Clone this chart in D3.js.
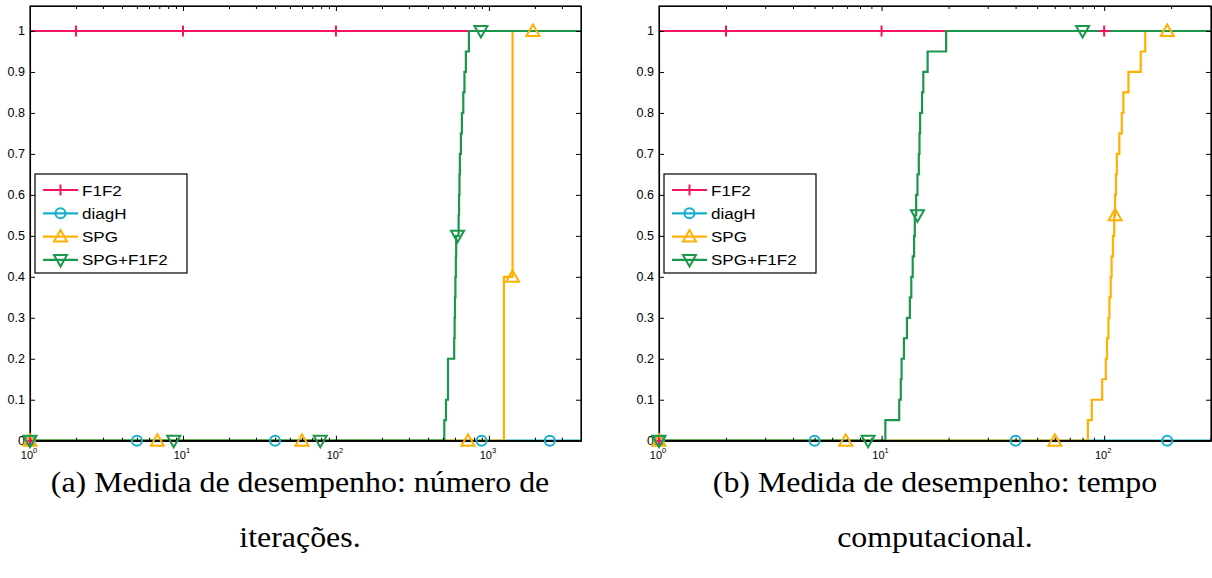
<!DOCTYPE html>
<html>
<head>
<meta charset="utf-8">
<script src="https://cdn.jsdelivr.net/npm/d3@7"></script>
<style>
  body { margin: 0; background: #fff; }
  svg { display: block; }
</style>
</head>
<body>
<div id="chart"></div>
<script>
// performance profiles: iterations (a) and cpu time (b)
var svgWidth = 1212;
var svgHeight = 578;

var seriesNames = ["F1F2", "diagH", "SPG", "SPG+F1F2"];
var seriesColors = ["#f8135f", "#14afcb", "#ffb000", "#1b974c"];
var seriesMarkers = ["plus", "circle", "triUp", "triDown"];

var yTicks = [0, 0.1, 0.2, 0.3, 0.4, 0.5, 0.6, 0.7, 0.8, 0.9, 1];
var xMajor = [1, 10, 100, 1000];
var xExponents = ["0", "1", "2", "3"];

// (a) number of iterations - [tau, rho] stair points
var iterF1F2 = [[1, 0], [1, 1], [4000, 1]];
var iterDiagH = [[1, 0], [4000, 0]];
var iterSPG = [[1, 0], [1253, 0.4], [1428, 1], [4000, 1]];
var iterSPGF1F2 = [[1, 0], [511, 0.05], [524, 0.1], [540, 0.2], [593, 0.25], [597, 0.3],
  [600, 0.35], [604, 0.4], [608, 0.45], [611, 0.5], [634, 0.55], [638, 0.6], [642, 0.65],
  [646, 0.7], [656, 0.75], [666, 0.8], [680, 0.85], [692, 0.9], [707, 0.95], [740, 1], [4000, 1]];

var iterMarkF1F2 = [[1, 0], [2, 1], [10, 1], [100, 1]];
var iterMarkDiagH = [[1, 0], [5, 0], [40, 0], [895, 0], [2500, 0]];
var iterMarkSPG = [[1, 0], [6.8, 0], [60, 0], [730, 0], [1428, 0.4], [1940, 1]];
var iterMarkSPGF1F2 = [[1, 0], [8.7, 0], [79, 0], [624, 0.5], [887, 1]];

// (b) computational time
var timeF1F2 = [[1, 0], [1, 1], [302, 1]];
var timeDiagH = [[1, 0], [302, 0]];
var timeSPG = [[1, 0], [84.5, 0.05], [88, 0.1], [98, 0.15], [101.7, 0.2], [103, 0.25],
  [104.5, 0.3], [105.6, 0.35], [107, 0.4], [108, 0.45], [109.5, 0.5], [111, 0.55], [112, 0.6],
  [113, 0.65], [114, 0.7], [117, 0.75], [120, 0.8], [122, 0.85], [128.6, 0.9], [146, 0.95],
  [153, 1], [302, 1]];
var timeSPGF1F2 = [[1, 0], [10.4, 0.05], [12.0, 0.1], [12.2, 0.15], [12.3, 0.2], [12.6, 0.25],
  [13.0, 0.3], [13.4, 0.35], [13.6, 0.4], [13.8, 0.45], [14.0, 0.5], [14.1, 0.55], [14.3, 0.6],
  [14.5, 0.65], [14.7, 0.7], [14.8, 0.75], [14.9, 0.8], [15.2, 0.85], [15.4, 0.9], [16.1, 0.95],
  [19.5, 1], [302, 1]];

var timeMarkF1F2 = [[1, 0], [2, 1], [10, 1], [100, 1]];
var timeMarkDiagH = [[1, 0], [5, 0], [40, 0], [192, 0]];
var timeMarkSPG = [[1, 0], [6.9, 0], [60, 0], [112, 0.55], [192, 1]];
var timeMarkSPGF1F2 = [[1, 0], [8.7, 0], [14.5, 0.55], [80, 1]];

var captionA = ["(a) Medida de desempenho: número de", "iterações."];
var captionB = ["(b) Medida de desempenho: tempo", "computacional."];

var svg = d3.select("#chart")
  .append("svg")
  .attr("width", svgWidth)
  .attr("height", svgHeight);

function markerPath(type) {
  if (type === "plus") return "M-5.5,0H5.5M0,-5.5V5.5";
  if (type === "triUp") return "M0,-6.5L6.5,5L-6.5,5Z";
  if (type === "triDown") return "M0,6.5L6.5,-5L-6.5,-5Z";
  return null;
}

function drawMarker(g, type, color, x, y) {
  if (type === "circle") {
    g.append("circle")
      .attr("cx", x).attr("cy", y).attr("r", 5)
      .attr("fill", "none").attr("stroke", color).attr("stroke-width", 2);
  } else {
    g.append("path")
      .attr("d", markerPath(type))
      .attr("transform", `translate(${x},${y})`)
      .attr("fill", "none").attr("stroke", color).attr("stroke-width", 2);
  }
}

function drawPanel(opts) {
  var left = opts.left, right = opts.right, top = 6, bottom = 440.7;

  var x = d3.scaleLog().domain([1, opts.xMax]).range([left, right]);
  var y = d3.scaleLinear().domain([0, 1.061]).range([bottom, top]);

  var g = svg.append("g");

  // keep the tau=1 vertical from painting over the left axis
  g.append("clipPath").attr("id", opts.id)
    .append("rect")
    .attr("x", left).attr("y", top - 10)
    .attr("width", right - left).attr("height", bottom - top + 20);

  var plot = g.append("g").attr("clip-path", `url(#${opts.id})`);

  // stair lines
  var line = d3.line()
    .x(d => x(d[0]))
    .y(d => y(d[1]))
    .curve(d3.curveStepAfter);

  opts.lines.forEach(function(data, i) {
    plot.append("path")
      .datum(data)
      .attr("d", line)
      .attr("fill", "none")
      .attr("stroke", seriesColors[i])
      .attr("stroke-width", 2.2);
  });

  // axes
  var minor = x.ticks().filter(v => xMajor.indexOf(v) < 0);
  var majors = xMajor.filter(v => v <= opts.xMax);

  g.append("g")
    .attr("transform", `translate(0,${bottom})`)
    .call(d3.axisBottom(x).tickValues(majors).tickSize(-5).tickSizeOuter(0).tickFormat(""));
  g.append("g")
    .attr("transform", `translate(0,${bottom})`)
    .call(d3.axisBottom(x).tickValues(minor).tickSize(-3).tickSizeOuter(0).tickFormat(""));
  g.append("g")
    .attr("transform", `translate(0,${top})`)
    .call(d3.axisTop(x).tickValues(majors).tickSize(-5).tickSizeOuter(0).tickFormat(""));
  g.append("g")
    .attr("transform", `translate(0,${top})`)
    .call(d3.axisTop(x).tickValues(minor).tickSize(-3).tickSizeOuter(0).tickFormat(""));

  var axLeft = g.append("g")
    .attr("transform", `translate(${left},0)`)
    .call(d3.axisLeft(y).tickValues(yTicks).tickSize(-5).tickSizeOuter(0).tickPadding(5)
      .tickFormat(d3.format("")));
  g.append("g")
    .attr("transform", `translate(${right},0)`)
    .call(d3.axisRight(y).tickValues(yTicks).tickSize(-5).tickSizeOuter(0).tickFormat(""));

  g.selectAll(".domain").attr("stroke", "#000");
  g.selectAll(".tick line").attr("stroke", "#000");
  axLeft.selectAll("text")
    .attr("font-family", "Liberation Sans, Arial, sans-serif")
    .attr("font-size", 12.5)
    .attr("fill", "#000");

  g.append("rect")
    .attr("x", left).attr("y", top)
    .attr("width", right - left).attr("height", bottom - top)
    .attr("fill", "none").attr("stroke", "#000").attr("stroke-width", 1.2);

  // markers on top of the lines
  opts.marks.forEach(function(pts, i) {
    pts.forEach(function(p) {
      drawMarker(g, seriesMarkers[i], seriesColors[i], x(p[0]), y(p[1]));
    });
  });

  // x tick labels 10^k
  majors.forEach(function(v, i) {
    var t = g.append("text")
      .attr("x", x(v) - 1)
      .attr("y", bottom + 18)
      .attr("text-anchor", "middle")
      .attr("font-family", "Liberation Sans, Arial, sans-serif")
      .attr("font-size", 11)
      .attr("fill", "#000");
    t.append("tspan").text("10");
    t.append("tspan").attr("dy", -6).attr("font-size", 7.5).text(xExponents[i]);
  });

  // legend
  var lg = g.append("g").attr("transform", `translate(${left + 5},174)`);
  lg.append("rect")
    .attr("width", 152).attr("height", 99)
    .attr("fill", "#fff").attr("stroke", "#000").attr("stroke-width", 1.2);
  seriesNames.forEach(function(name, i) {
    var ly = 16 + i * 23.3;
    lg.append("line")
      .attr("x1", 8).attr("x2", 43).attr("y1", ly).attr("y2", ly)
      .attr("stroke", seriesColors[i]).attr("stroke-width", 2.2);
    drawMarker(lg, seriesMarkers[i], seriesColors[i], 25.5, ly);
    lg.append("text")
      .attr("transform", `translate(47,${ly + 5.5}) scale(1.1,1)`)
      .attr("font-family", "Liberation Sans, Arial, sans-serif")
      .attr("font-size", 15.5)
      .attr("fill", "#000")
      .text(name);
  });

  // caption
  opts.caption.forEach(function(line, i) {
    svg.append("text")
      .attr("transform", `translate(${opts.captionX},${492 + i * 55}) scale(1.1,1)`)
      .attr("text-anchor", "middle")
      .attr("font-family", "Liberation Serif, Times New Roman, serif")
      .attr("font-size", 29)
      .attr("fill", "#000")
      .text(line);
  });
}

drawPanel({
  id: "clipA", left: 30, right: 581, xMax: 4000,
  lines: [iterF1F2, iterDiagH, iterSPG, iterSPGF1F2],
  marks: [iterMarkF1F2, iterMarkDiagH, iterMarkSPG, iterMarkSPGF1F2],
  caption: captionA, captionX: 300
});

drawPanel({
  id: "clipB", left: 659, right: 1211, xMax: 302,
  lines: [timeF1F2, timeDiagH, timeSPG, timeSPGF1F2],
  marks: [timeMarkF1F2, timeMarkDiagH, timeMarkSPG, timeMarkSPGF1F2],
  caption: captionB, captionX: 935
});
</script>
</body>
</html>
